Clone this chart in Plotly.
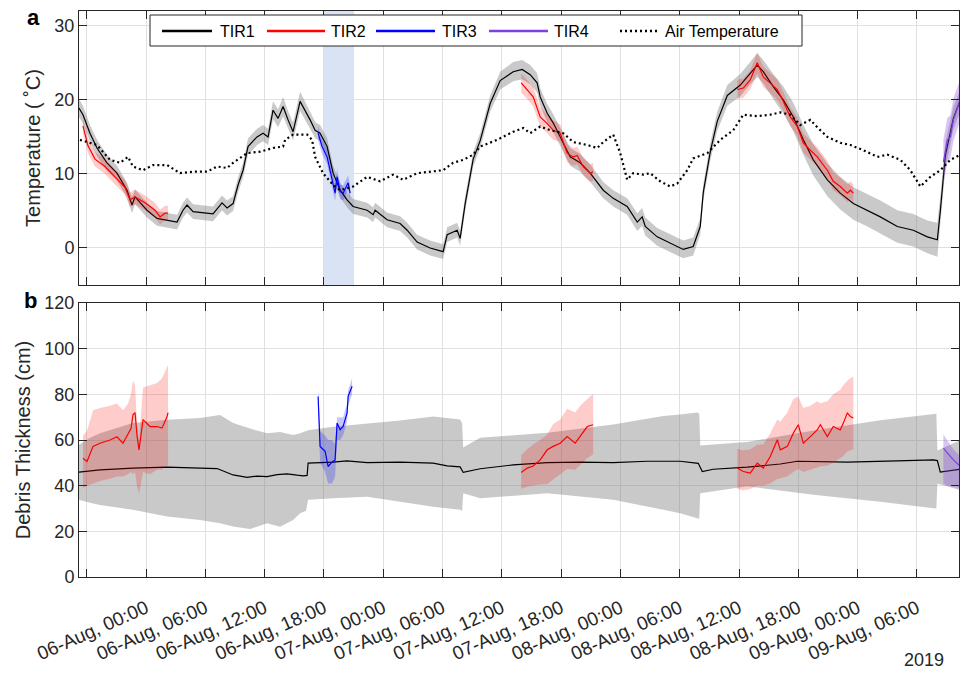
import pandas as pd
import plotly.graph_objects as go
from plotly.subplots import make_subplots

FONT = "Liberation Sans, Arial, sans-serif"
INK = "#262626"
BASE = pd.Timestamp("2019-08-06 00:00")

# ---------------- panel a: surface temperature (hours after 06-Aug 00:00) ----------------
tir1_temp_hours = [
    -6.78, -6.38, -5.67, -4.96, -3.95, -2.94, -1.92, -1.42, -1.11, 0.10,
    1.11, 2.13, 3.14, 3.74, 4.15, 4.76, 6.17, 6.78, 7.69, 8.20,
    8.81, 9.31, 9.82, 10.32, 11.23, 11.84, 12.35, 12.85, 13.36, 13.87,
    14.37, 14.88, 15.59, 16.09, 16.60, 17.11, 17.61, 18.32, 18.93, 19.64,
    20.34, 20.95, 22.37, 22.98, 23.18, 24.39, 25.71, 26.42, 27.43, 28.74,
    30.06, 30.47, 31.48, 31.78, 32.29, 33.10, 33.81, 34.82, 35.83, 37.15,
    38.06, 38.87, 39.57, 39.88, 40.59, 41.19, 42.21, 42.91, 43.93, 44.94,
    46.26, 47.27, 48.68, 49.70, 50.20, 50.51, 51.72, 53.04, 54.35, 55.36,
    56.07, 56.38, 57.09, 57.79, 58.81, 60.12, 61.13, 61.84, 62.45, 63.46,
    64.47, 65.49, 66.50, 67.51, 68.93, 70.24, 71.56, 72.98, 74.29, 76.01,
    77.63, 79.05, 80.06, 80.36, 80.87, 81.68, 82.39,
]
tir1_temp = [
    18.9, 18.0, 15.5, 13.5, 11.5, 10.1, 7.8, 5.8, 6.9, 5.1,
    4.0, 3.8, 3.5, 5.1, 5.8, 4.9, 4.7, 4.6, 6.1, 5.4,
    6.0, 8.5, 10.5, 13.7, 15.0, 15.5, 15.0, 18.6, 17.5, 19.1,
    17.3, 15.7, 19.8, 18.6, 17.3, 15.9, 15.5, 13.7, 10.1, 7.8,
    6.5, 5.6, 5.1, 4.5, 5.1, 3.8, 3.3, 2.4, 0.8, 0.0,
    -0.5, 1.8, 2.4, 1.3, 6.0, 12.0, 14.5, 19.5, 22.6, 23.8,
    24.1, 23.4, 22.3, 20.4, 18.2, 16.9, 14.2, 12.3, 11.5, 10.1,
    7.8, 6.7, 5.6, 3.5, 4.2, 2.9, 1.5, 0.6, -0.2, 0.2,
    2.9, 7.5, 13.0, 17.1, 20.6, 22.0, 23.6, 24.7, 23.8, 21.8,
    20.0, 17.7, 14.6, 11.9, 9.2, 7.4, 6.0, 5.1, 4.2, 2.9,
    2.4, 1.5, 1.1, 5.0, 12.5, 17.5, 20.0,
]
tir1_temp_unc = [
    1.2, 1.2, 1.1, 1.1, 1.1, 1.0, 1.0, 1.1, 1.0, 1.0,
    1.0, 1.0, 1.0, 1.0, 1.0, 1.0, 1.0, 1.0, 1.0, 1.0,
    1.0, 1.0, 1.0, 1.1, 1.1, 1.1, 1.1, 1.2, 1.2, 1.3,
    1.2, 1.2, 1.3, 1.2, 1.2, 1.1, 1.1, 1.1, 1.0, 1.0,
    1.0, 1.0, 1.0, 1.0, 1.0, 1.0, 1.0, 1.0, 1.0, 1.0,
    1.0, 1.0, 1.0, 1.0, 1.0, 1.0, 1.0, 1.1, 1.2, 1.3,
    1.3, 1.3, 1.3, 1.2, 1.2, 1.2, 1.2, 1.2, 1.2, 1.2,
    1.1, 1.1, 1.1, 1.2, 1.2, 1.2, 1.2, 1.2, 1.2, 1.2,
    1.1, 1.1, 1.2, 1.3, 1.4, 1.5, 1.5, 1.6, 1.6, 1.7,
    1.8, 1.9, 2.0, 2.1, 2.2, 2.2, 2.2, 2.2, 2.2, 2.2,
    2.2, 2.2, 2.3, 2.0, 1.8, 1.5, 1.5,
]

tir2_temp_hours = [
    [-6.38, -5.87, -5.16, -4.15, -3.14, -2.13, -1.62, -1.11, -0.10, 0.91, 1.42, 1.92, 2.23],
    [37.96, 38.56, 39.17, 39.88, 40.59, 41.19, 41.90, 42.61, 43.22, 43.62, 44.23, 44.94, 45.24],
    [59.82, 60.43, 61.13, 61.84, 62.45, 63.16, 63.87, 64.47, 65.18, 65.89,
     66.50, 67.21, 67.91, 68.93, 69.53, 70.24, 70.95, 71.26, 71.56],
]
tir2_temp = [
    [16.5, 13.8, 12.0, 11.0, 9.6, 8.2, 6.5, 6.9, 6.1, 5.1, 4.2, 4.7, 4.7],
    [22.3, 21.4, 20.4, 17.7, 16.8, 15.9, 15.5, 12.8, 12.3, 12.5, 11.0, 10.1, 10.3],
    [21.4, 21.6, 22.7, 25.0, 23.1, 22.3, 21.4, 19.8, 17.7, 16.4,
     14.2, 13.2, 12.3, 10.5, 9.0, 8.3, 7.4, 7.8, 7.4],
]
tir2_temp_unc = [
    [1.0, 1.0, 1.0, 1.0, 1.0, 1.0, 1.0, 1.0, 1.0, 1.0, 1.0, 1.0, 1.0],
    [1.3, 1.3, 1.3, 1.3, 1.3, 1.3, 1.2, 1.2, 1.2, 1.2, 1.2, 1.2, 1.2],
    [1.3, 1.3, 1.3, 1.4, 1.4, 1.4, 1.4, 1.3, 1.3, 1.3,
     1.3, 1.3, 1.3, 1.3, 1.2, 1.2, 1.2, 1.2, 1.2],
]

tir3_temp_hours = [17.41, 17.81, 18.32, 18.83, 19.13, 19.33, 19.64, 19.94, 20.45, 20.65]
tir3_temp = [15.5, 13.7, 12.3, 9.2, 7.4, 9.6, 7.6, 7.4, 8.8, 7.4]
tir3_temp_unc = [1.0, 1.0, 1.0, 1.1, 1.1, 1.1, 1.0, 1.0, 1.0, 1.0]

tir4_temp_hours = [80.67, 81.07, 81.38, 81.68, 82.19, 82.39]
tir4_temp = [11.6, 14.6, 15.0, 17.3, 19.3, 19.7]
tir4_temp_unc = [3.0, 3.0, 2.9, 2.9, 2.8, 2.8]

air_hours = [
    -6.68, -4.96, -3.64, -2.63, -1.82, -1.32, -0.30, 0.71, 2.13, 3.44,
    4.76, 6.17, 7.19, 8.20, 8.81, 10.22, 11.54, 12.85, 13.87, 14.07,
    14.88, 16.30, 16.80, 17.11, 17.91, 18.93, 19.64, 20.95, 22.37, 23.68,
    25.00, 26.01, 27.43, 28.74, 30.06, 31.07, 32.09, 33.10, 33.81, 35.53,
    37.15, 38.16, 38.87, 39.88, 40.89, 42.21, 43.22, 44.64, 45.65, 46.26,
    47.27, 47.98, 48.68, 49.29, 50.30, 51.01, 52.02, 53.04, 53.74, 54.76,
    55.36, 56.78, 58.10, 59.41, 60.43, 61.84, 63.16, 64.17, 65.18, 66.19,
    67.21, 67.91, 68.93, 70.24, 71.26, 72.57, 73.99, 75.00, 76.32, 77.33,
    78.34, 79.35, 80.36, 81.38, 82.39,
]
air_temp = [
    14.6, 13.9, 11.9, 11.5, 12.3, 11.0, 10.5, 11.2, 11.2, 10.1,
    10.3, 10.3, 11.0, 10.8, 11.5, 12.8, 13.0, 13.5, 13.7, 14.6,
    15.3, 15.3, 14.6, 12.3, 10.1, 8.5, 7.8, 8.3, 9.6, 9.0,
    9.9, 9.2, 10.1, 10.3, 10.5, 11.5, 11.9, 12.6, 13.7, 14.6,
    15.7, 16.2, 15.5, 16.4, 15.9, 15.5, 14.3, 13.9, 13.5, 14.3,
    15.3, 12.8, 9.2, 10.1, 9.9, 10.1, 9.0, 8.3, 8.7, 10.5,
    12.1, 12.8, 14.6, 15.9, 18.0, 17.8, 18.0, 18.3, 18.0, 16.6,
    17.3, 16.3, 15.0, 14.2, 13.9, 13.2, 12.3, 12.6, 11.9, 10.5,
    8.3, 9.6, 10.5, 11.9, 12.6,
]

# ---------------- panel b: debris thickness ----------------
tir1_deb_hours = [
    -6.78, -4.66, -1.32, 2.13, 5.47, 7.19, 8.81, 10.22, 11.23, 12.25,
    13.26, 14.27, 15.28, 15.89, 16.30, 16.40, 18.93, 20.34, 22.37, 25.71,
    29.05, 30.47, 31.78, 32.09, 33.81, 37.15, 40.59, 43.93, 47.27, 50.71,
    54.05, 55.36, 55.87, 56.28, 57.39, 60.83, 64.17, 65.89, 70.95, 76.01,
    79.66, 80.06, 80.36, 82.39,
]
tir1_deb = [
    45.9, 46.9, 47.7, 48.1, 47.7, 47.5, 44.7, 43.6, 44.2, 44.0,
    44.8, 45.2, 44.6, 44.3, 44.5, 49.9, 50.3, 50.9, 50.1, 50.3,
    49.9, 48.7, 48.2, 45.8, 47.4, 49.1, 50.1, 50.3, 50.1, 50.7,
    50.7, 50.1, 49.8, 46.2, 47.2, 48.1, 49.5, 50.7, 50.3, 50.9,
    51.3, 51.0, 45.9, 47.2,
]
tir1_deb_band_hours = [
    -6.78, -5.67, -4.66, -1.32, 2.13, 5.47, 7.49, 8.81, 10.53, 12.25,
    13.56, 14.88, 15.59, 16.19, 16.40, 18.93, 22.37, 25.71, 29.05, 31.78,
    31.98, 32.09, 33.81, 40.59, 47.27, 52.33, 54.05, 55.77, 55.97, 56.07,
    60.83, 67.51, 74.29, 79.66, 79.96, 80.06, 82.39,
]
tir1_deb_upper = [
    57.9, 61.0, 63.0, 67.4, 68.9, 69.6, 71.0, 67.4, 65.0, 63.0,
    63.5, 62.2, 63.0, 64.0, 64.3, 65.8, 67.3, 68.5, 70.3, 69.0,
    67.3, 56.7, 61.0, 63.2, 66.8, 70.5, 71.2, 72.0, 71.5, 57.6,
    59.1, 64.2, 68.6, 71.5, 71.5, 55.4, 60.0,
]
tir1_deb_lower = [
    33.8, 32.5, 31.5, 29.4, 26.5, 25.0, 23.5, 22.1, 21.0, 23.5,
    22.0, 25.0, 27.9, 29.0, 33.8, 34.5, 35.2, 33.0, 30.8, 29.4,
    29.0, 36.7, 34.5, 36.7, 33.8, 29.5, 27.9, 25.7, 25.5, 36.7,
    39.7, 36.0, 33.0, 30.1, 30.0, 41.0, 38.0,
]

tir2_deb_hours = [
    [-6.38, -5.97, -5.36, -4.66, -3.64, -2.94, -2.33, -1.82, -1.52, -1.32,
     -1.11, -0.91, -0.71, -0.30, 0.40, 1.11, 1.62, 2.13, 2.23],
    [37.96, 38.56, 39.17, 39.88, 40.59, 41.19, 41.90, 42.61, 43.42, 43.93, 44.64, 45.24],
    [59.82, 60.43, 61.13, 61.84, 62.45, 63.16, 63.87, 64.17, 64.88, 65.49,
     65.99, 66.50, 67.21, 67.91, 68.22, 68.93, 69.53, 70.24, 70.55, 70.95,
     71.26, 71.56],
]
tir2_deb = [
    [52.0, 50.6, 57.2, 58.6, 60.0, 61.4, 58.6, 63.0, 65.0, 71.0,
     72.0, 62.0, 55.7, 68.9, 65.9, 65.9, 65.2, 70.3, 72.0],
    [45.8, 47.7, 48.6, 51.3, 55.7, 57.2, 58.6, 61.5, 58.6, 61.5, 65.9, 66.7],
    [47.7, 46.2, 45.5, 49.9, 47.7, 52.8, 60.1, 55.7, 57.2, 63.0,
     66.7, 58.6, 61.5, 64.4, 66.7, 61.5, 65.9, 64.4, 67.4, 71.8,
     70.3, 69.6],
]
tir2_deb_upper = [
    [62.0, 64.0, 73.0, 74.0, 75.0, 76.0, 73.0, 76.0, 80.0, 86.0,
     84.0, 67.0, 60.0, 83.0, 84.0, 85.0, 87.0, 92.0, 93.0],
    [53.4, 56.0, 58.0, 60.0, 62.4, 67.0, 69.0, 73.7, 72.0, 75.0, 78.0, 80.1],
    [56.1, 55.5, 56.0, 58.0, 58.0, 63.0, 69.0, 68.0, 72.0, 78.0,
     79.0, 74.0, 75.0, 77.0, 76.1, 77.0, 80.0, 82.0, 84.0, 86.0,
     87.0, 87.8],
]
tir2_deb_lower = [
    [39.0, 40.0, 41.0, 42.0, 43.0, 44.0, 44.0, 45.0, 46.0, 45.0,
     46.0, 40.0, 36.5, 46.0, 45.0, 47.0, 47.0, 48.6, 49.0],
    [38.5, 39.5, 40.0, 40.5, 40.7, 43.0, 45.0, 47.3, 47.0, 49.0, 52.0, 53.8],
    [38.5, 38.0, 38.5, 40.0, 40.0, 41.0, 42.9, 43.0, 44.0, 46.0,
     47.3, 46.0, 47.0, 48.0, 48.5, 48.7, 50.0, 52.0, 53.0, 55.0,
     55.5, 56.0],
]

tir3_deb_hours = [17.41, 17.61, 18.12, 18.42, 18.83, 19.13, 19.33, 19.64, 19.94, 20.34, 20.45, 20.85]
tir3_deb = [79.1, 57.2, 55.0, 48.4, 50.4, 51.3, 67.4, 64.5, 65.9, 71.8, 79.1, 83.5]
tir3_deb_upper = [83.0, 64.0, 62.0, 60.0, 60.0, 58.0, 70.0, 70.0, 70.0, 76.0, 82.0, 87.0]
tir3_deb_lower = [74.0, 50.0, 46.0, 41.0, 41.0, 44.0, 60.0, 60.0, 62.0, 68.0, 75.0, 80.0]

tir4_deb_hours = [80.67, 81.07, 81.68, 82.39]
tir4_deb = [56.4, 54.2, 51.3, 48.4]
tir4_deb_upper = [62.4, 60.0, 56.0, 53.0]
tir4_deb_lower = [41.0, 40.0, 39.5, 39.0]

legend_names = ["TIR1", "TIR2", "TIR3", "TIR4", "Air Temperature"]

shade_start, shade_end = "2019-08-06 18:00", "2019-08-06 21:03"
x_start, x_end = -6.78, 82.25

COLORS = {"TIR1": "#000000", "TIR2": "#FF0000", "TIR3": "#0000FF", "TIR4": "#7E40E0",
          "Air Temperature": "#000000"}
FILLS = {"TIR1": "rgba(120,120,120,0.40)", "TIR2": "rgba(255,0,0,0.20)",
         "TIR3": "rgba(0,0,255,0.22)", "TIR4": "rgba(126,64,224,0.30)"}
AIR_DASH = "2px,3px"

# figure geometry (pixels)
W, H = 960, 673
ML, MR, MT, MB = 79, 1, 11, 96
PW, PH = W - ML - MR, H - MT - MB


def px(x):
    return (x - ML) / PW


def py(y):
    return 1 - (y - MT) / PH


def to_time(hours):
    return list(BASE + pd.to_timedelta(hours, unit="h"))


fig = make_subplots(rows=2, cols=1, shared_xaxes=True)


def add_band(hours, lower, upper, fill, row):
    t = to_time(hours)
    fig.add_trace(go.Scatter(x=t + t[::-1], y=list(upper) + list(lower)[::-1],
                             fill="toself", fillcolor=fill, mode="lines",
                             line=dict(width=0), hoverinfo="skip", showlegend=False),
                  row=row, col=1)


def add_line(hours, values, color, row, width=1.2):
    fig.add_trace(go.Scatter(x=to_time(hours), y=values, mode="lines",
                             line=dict(color=color, width=width), showlegend=False),
                  row=row, col=1)


def sym_band(values, unc):
    return [v - u for v, u in zip(values, unc)], [v + u for v, u in zip(values, unc)]


# panel a
lo, hi = sym_band(tir1_temp, tir1_temp_unc)
add_band(tir1_temp_hours, lo, hi, FILLS["TIR1"], 1)
add_line(tir1_temp_hours, tir1_temp, COLORS["TIR1"], 1)
for h, v, u in zip(tir2_temp_hours, tir2_temp, tir2_temp_unc):
    lo, hi = sym_band(v, u)
    add_band(h, lo, hi, FILLS["TIR2"], 1)
    add_line(h, v, COLORS["TIR2"], 1)
lo, hi = sym_band(tir3_temp, tir3_temp_unc)
add_band(tir3_temp_hours, lo, hi, FILLS["TIR3"], 1)
add_line(tir3_temp_hours, tir3_temp, COLORS["TIR3"], 1)
lo, hi = sym_band(tir4_temp, tir4_temp_unc)
add_band(tir4_temp_hours, lo, hi, FILLS["TIR4"], 1)
add_line(tir4_temp_hours, tir4_temp, COLORS["TIR4"], 1)
fig.add_trace(go.Scatter(x=to_time(air_hours), y=air_temp, mode="lines",
                         line=dict(color="#000000", width=2.2, dash=AIR_DASH),
                         showlegend=False), row=1, col=1)

# panel b
add_band(tir1_deb_band_hours, tir1_deb_lower, tir1_deb_upper, FILLS["TIR1"], 2)
add_line(tir1_deb_hours, tir1_deb, COLORS["TIR1"], 2)
for h, v, up, dn in zip(tir2_deb_hours, tir2_deb, tir2_deb_upper, tir2_deb_lower):
    add_band(h, dn, up, FILLS["TIR2"], 2)
    add_line(h, v, COLORS["TIR2"], 2)
add_band(tir3_deb_hours, tir3_deb_lower, tir3_deb_upper, FILLS["TIR3"], 2)
add_line(tir3_deb_hours, tir3_deb, COLORS["TIR3"], 2)
add_band(tir4_deb_hours, tir4_deb_lower, tir4_deb_upper, FILLS["TIR4"], 2)
add_line(tir4_deb_hours, tir4_deb, COLORS["TIR4"], 2)

shapes = [
    # shaded TIR3 window in panel a
    dict(type="rect", xref="x", yref="y domain", x0=shade_start, x1=shade_end,
         y0=0, y1=1, fillcolor="#DAE3F3", line=dict(width=0), layer="below"),
    # legend box
    dict(type="rect", xref="paper", yref="paper", x0=px(150), x1=px(802),
         y0=py(46), y1=py(15), fillcolor="white", line=dict(color=INK, width=1),
         layer="above"),
]
annotations = []

# legend rows: sample line start/end and label start (pixels)
legend_slots = [(162, 212, 218), (267, 325, 329), (376, 435, 440), (489, 548, 552), (620, 659, 663)]
for name, (l0, l1, tx) in zip(legend_names, legend_slots):
    dash = AIR_DASH if name == "Air Temperature" else "solid"
    shapes.append(dict(type="line", xref="paper", yref="paper", x0=px(l0), x1=px(l1),
                       y0=py(31), y1=py(31), layer="above",
                       line=dict(color=COLORS[name], width=2.5, dash=dash)))
    annotations.append(dict(text=name, x=px(tx), y=py(31), xref="paper", yref="paper",
                            xanchor="left", yanchor="middle", showarrow=False,
                            font=dict(family=FONT, size=16, color="#000000")))

annotations += [
    dict(text="<b>a</b>", x=px(33), y=py(18), xref="paper", yref="paper",
         xanchor="center", yanchor="middle", showarrow=False,
         font=dict(family=FONT, size=22, color="#000000")),
    dict(text="<b>b</b>", x=px(30), y=py(300), xref="paper", yref="paper",
         xanchor="center", yanchor="middle", showarrow=False,
         font=dict(family=FONT, size=22, color="#000000")),
    dict(text="2019", x=px(946), y=py(660), xref="paper", yref="paper",
         xanchor="right", yanchor="middle", showarrow=False,
         font=dict(family=FONT, size=18, color=INK)),
]

axis_common = dict(showline=True, linecolor=INK, linewidth=1, mirror="ticks",
                   ticks="inside", ticklen=8, tickcolor=INK, showgrid=True,
                   gridcolor="#E0E0E0", gridwidth=1, zeroline=False,
                   tickfont=dict(family=FONT, size=18, color=INK))

x_range = [to_time([x_start])[0], to_time([x_end])[0]]
xcommon = dict(axis_common, range=x_range, tick0="2019-08-06 00:00",
               dtick=6 * 3600 * 1000, tickformat="%d-%b, %H:%M")
fig.update_xaxes(**xcommon)
fig.update_xaxes(showticklabels=False, row=1, col=1)
fig.update_xaxes(tickangle=-24, ticklabelstandoff=12,
                 tickfont=dict(family=FONT, size=19, color=INK), row=2, col=1)

fig.update_yaxes(**axis_common)
fig.update_yaxes(range=[-5, 32], tickvals=[0, 10, 20, 30], domain=[py(285), 1.0],
                 title=dict(text="Temperature ( ˚C)", font=dict(family=FONT, size=20, color=INK),
                            standoff=8), row=1, col=1)
fig.update_yaxes(range=[0, 120], dtick=20, domain=[0.0, py(303)],
                 title=dict(text="Debris Thickness (cm)", font=dict(family=FONT, size=20, color=INK),
                            standoff=8), row=2, col=1)

fig.update_layout(
    width=W, height=H,
    margin=dict(l=ML, r=MR, t=MT, b=MB, autoexpand=False),
    plot_bgcolor="white", paper_bgcolor="white",
    font=dict(family=FONT, color=INK),
    showlegend=False,
    shapes=shapes,
    annotations=annotations,
)

fig.write_html("out.html")
